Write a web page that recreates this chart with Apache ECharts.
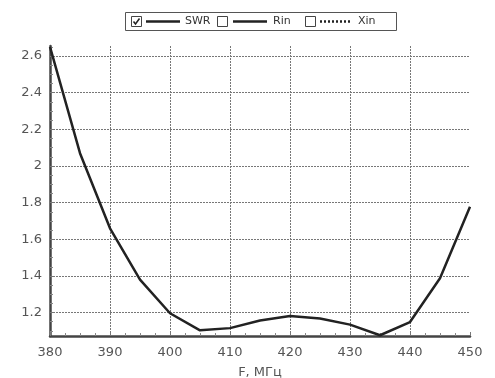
<!DOCTYPE html>
<html><head><meta charset="utf-8">
<script src="https://cdn.jsdelivr.net/npm/echarts@6/dist/echarts.min.js"></script>
<style>html,body{margin:0;padding:0;background:#fff}#c{width:495px;height:378px}</style>
</head><body><div id="c"></div>
<script>
const freq = [380,385,390,395,400,405,410,415,420,425,430,435,440,445,450];
const swr = [2.65,2.07,1.66,1.38,1.196,1.103,1.115,1.157,1.181,1.168,1.134,1.076,1.148,1.387,1.777];
const yTicks = [1.2,1.4,1.6,1.8,2,2.2,2.4,2.6];
const yMinorTicks = [1.1,1.15,1.25,1.3,1.35,1.45,1.5,1.55,1.65,1.7,1.75,1.85,1.9,1.95,2.05,2.1,2.15,2.25,2.3,2.35,2.45,2.5,2.55,2.65];
const legendNames = ['SWR','Rin','Xin'];

const chart = echarts.init(document.getElementById('c'));
const font = 'DejaVu Sans, Verdana, sans-serif';
const lg = [];
lg.push({type:'rect', shape:{x:125.5,y:12.5,width:271,height:18}, style:{fill:'#fff',stroke:'#555',lineWidth:1}});
const items = [
  {cb:131, l0:146, l1:180, tx:185, dash:null, checked:true},
  {cb:217, l0:233, l1:267, tx:273, dash:null, checked:false},
  {cb:305, l0:320, l1:352, tx:358, dash:[2,2], checked:false}
];
items.forEach((it,i)=>{
  lg.push({type:'rect', shape:{x:it.cb+0.5,y:16.5,width:10,height:10}, style:{fill:'#fff',stroke:'#444',lineWidth:1}});
  if(it.checked) lg.push({type:'polyline', shape:{points:[[it.cb+2.5,21.5],[it.cb+4.5,24],[it.cb+8.5,18.5]]}, style:{fill:null,stroke:'#222',lineWidth:1.5}});
  lg.push({type:'line', shape:{x1:it.l0,y1:21.5,x2:it.l1,y2:21.5}, style:{stroke:'#222',lineWidth:2.5,lineDash:it.dash}});
  lg.push({type:'text', x:it.tx, y:21.5, style:{text:legendNames[i], font:'11px '+font, fill:'#333', verticalAlign:'middle'}});
});

const yMin = 1.072, yMax = 2.655;
chart.setOption({
  animation:false,
  backgroundColor:'#fff',
  grid:{left:50,right:25,top:46,bottom:42,containLabel:false,outerBoundsMode:'none'},
  graphic: lg,
  xAxis:{
    type:'value', min:380, max:450, interval:10,
    name:'F, МГц', nameLocation:'middle', nameGap:30,
    nameTextStyle:{fontFamily:font,fontSize:13,color:'#555'},
    axisLine:{lineStyle:{color:'#444',width:2.5}},
    axisTick:{show:true,inside:true,length:4,lineStyle:{color:'#777',width:1}},
    minorTick:{show:true,splitNumber:4,length:3,lineStyle:{color:'#888',width:1}},
    axisLabel:{fontFamily:font,fontSize:13,color:'#555',margin:10},
    splitLine:{show:true,showMinLine:false,showMaxLine:false,lineStyle:{color:'#777',type:[2,1],width:1}}
  },
  yAxis:[{
    type:'value', min:yMin, max:yMax,
    axisLine:{show:true,lineStyle:{color:'#444',width:2.5}},
    axisTick:{show:true,inside:true,length:3,customValues:yTicks,lineStyle:{color:'#777'}},
    axisLabel:{fontFamily:font,fontSize:13,color:'#555',margin:8,
      customValues: yTicks, formatter:v=>String(+v.toFixed(1))},
    splitLine:{show:true,lineStyle:{color:'#777',type:[2,1],width:1}}
  },{
    type:'value', min:yMin, max:yMax, position:'left', offset:0,
    axisLine:{show:false},
    axisTick:{show:true,inside:true,length:3,customValues:yMinorTicks,lineStyle:{color:'#888'}},
    axisLabel:{show:false},
    splitLine:{show:false}
  }],
  series:[{
    type:'line', name:'SWR', data: freq.map((f,i)=>[f,swr[i]]),
    showSymbol:false, symbol:'none',
    lineStyle:{color:'#222',width:2.5}
  }]
});
</script></body></html>
